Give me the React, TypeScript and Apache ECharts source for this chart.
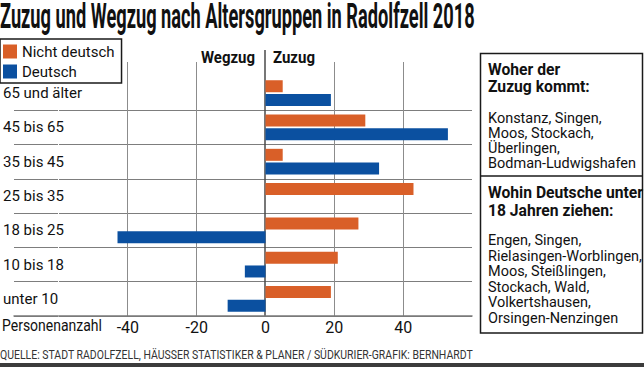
import React, { useEffect, useRef } from "react";
import * as echarts from "echarts";

// ---------- data ----------
const categories = ["65 und älter", "45 bis 65", "35 bis 45", "25 bis 35", "18 bis 25", "10 bis 18", "unter 10"];
const nichtDeutsch = [5, 29, 5, 43, 27, 21, 19];
const deutsch = [19, 53, 33, 0, -43, -6, -11];
const seriesNames = ["Nicht deutsch", "Deutsch"];
const xMin = -60;
const xMax = 60;
const xStep = 20;

const titleText = "Zuzug und Wegzug nach Altersgruppen in Radolfzell 2018";
const footerText = "QUELLE: STADT RADOLFZELL, HÄUSSER STATISTIKER & PLANER / SÜDKURIER-GRAFIK: BERNHARDT";
const box1Head = ["Woher der", "Zuzug kommt:"];
const box1Body = ["Konstanz, Singen,", "Moos, Stockach,", "Überlingen,", "Bodman-Ludwigshafen"];
const box2Head = ["Wohin Deutsche unter", "18 Jahren ziehen:"];
const box2Body = ["Engen, Singen,", "Rielasingen-Worblingen,", "Moos, Steißlingen,", "Stockach, Wald,", "Volkertshausen,", "Orsingen-Nenzingen"];

const FONT = 'Roboto, "Noto Sans", sans-serif';
const ORANGE = "#d95f28";
const BLUE = "#0b50a0";

function measure(text: string, font: string): number {
  const c = document.createElement("canvas");
  const ctx = c.getContext("2d");
  if (!ctx) return text.length * 8;
  ctx.font = font;
  return ctx.measureText(text).width;
}

export default function App() {
  const ref = useRef<HTMLDivElement>(null);

  useEffect(() => {
    if (!ref.current) return;
    const chart = echarts.init(ref.current, null, { renderer: "svg" });

    const fit = (text: string, font: string, w: number) => w / measure(text, font);
    const titleScale = fit(titleText, `bold 35px Roboto`, 475);
    const footerScale = fit(footerText, `13px Roboto`, 473);
    const headScale = Math.min(1, fit(box2Head[0], `bold 16px Roboto`, 155));
    const bodyScale = Math.min(1, fit(box2Body[1], `15px Roboto`, 154));
    const wegScale = fit("Wegzug", `bold 17px Roboto`, 54);
    const zuScale = fit("Zuzug", `bold 17px Roboto`, 42);
    const persScale = fit("Personenanzahl", `16px Roboto`, 100);

    const nTicks = Math.round((xMax - xMin) / xStep) + 1;
    const tickVals = Array.from({ length: nTicks }, (_, i) => xMin + i * xStep);
    const gridColors = tickVals.map((v) => (v === xMin || v === xMax || v === 0 ? "transparent" : "#8c8c8c"));
    const zeroColors = tickVals.map((v) => (v === 0 ? "#4a4a4a" : "transparent"));
    const sepColors = ["transparent", ...categories.map(() => "#7d7d7d")];

    const textEl = (text: string, x: number, y: number, opts: any = {}) => ({
      type: "text",
      x,
      y,
      scaleX: opts.scaleX ?? 1,
      z: 10,
      style: {
        text,
        fill: opts.fill ?? "#111",
        font: `${opts.bold ? "bold " : ""}${opts.size ?? 15}px ${FONT}`,
        textAlign: opts.align ?? "left",
        textVerticalAlign: "middle",
      },
    });

    const graphic: any[] = [
      textEl(titleText, 0, 16, { bold: true, size: 35, scaleX: titleScale }),
      textEl("Wegzug", 255, 57, { bold: true, size: 17, align: "right", scaleX: wegScale }),
      textEl("Zuzug", 273, 57, { bold: true, size: 17, scaleX: zuScale }),
      textEl("Personenanzahl", 2, 326, { size: 16, scaleX: persScale }),
      textEl(footerText, 0, 355, { size: 13, fill: "#333", scaleX: footerScale }),
      { type: "rect", shape: { x: 0, y: 363, width: 644, height: 4 }, style: { fill: "#3c3c3c" } },
      {
        type: "rect",
        shape: { x: 480.5, y: 53.5, width: 162, height: 279.5 },
        style: { fill: "none", stroke: "#1a1a1a", lineWidth: 1.5 },
      },
      { type: "line", shape: { x1: 480, y1: 176, x2: 643, y2: 176 }, style: { stroke: "#1a1a1a", lineWidth: 1.5 } },
    ];
    box1Head.forEach((t, i) => graphic.push(textEl(t, 488, 69 + i * 17, { bold: true, size: 16, scaleX: headScale })));
    box1Body.forEach((t, i) => graphic.push(textEl(t, 488, 118 + i * 15, { size: 15, scaleX: bodyScale })));
    box2Head.forEach((t, i) => graphic.push(textEl(t, 488, 192 + i * 18, { bold: true, size: 16, scaleX: headScale })));
    box2Body.forEach((t, i) => graphic.push(textEl(t, 488, 240 + i * 15.6, { size: 15, scaleX: bodyScale })));

    const hidden = { show: false, onZero: false };

    const option: any = {
      animation: false,
      textStyle: { fontFamily: FONT },
      legend: {
        data: seriesNames,
        orient: "vertical",
        left: 0,
        top: 39,
        icon: "rect",
        itemWidth: 14,
        itemHeight: 14,
        itemGap: 5,
        padding: [5, 7, 4, 3],
        borderColor: "#1a1a1a",
        borderWidth: 1.5,
        textStyle: { fontSize: 15, color: "#111", fontFamily: FONT },
      },
      grid: [
        { left: 58, right: 172, top: 76, bottom: 51 },
        { left: 14, width: 44, top: 76, bottom: 51 },
        { left: 58, right: 172, top: 62, bottom: 51 },
        { left: 58, right: 172, top: 50, bottom: 51 },
      ],
      xAxis: [
        {
          gridIndex: 0,
          type: "value",
          min: xMin,
          max: xMax,
          interval: xStep,
          axisLine: { show: true, onZero: false, lineStyle: { color: "#7a7a7a", width: 1.5 } },
          axisTick: { show: false },
          splitLine: { show: false },
          axisLabel: {
            fontSize: 16,
            color: "#111",
            margin: 3,
            fontFamily: FONT,
            formatter: (v: number) => (v === xMin || v === xMax ? "" : String(v)),
          },
        },
        {
          gridIndex: 1,
          type: "value",
          min: 0,
          max: 1,
          axisLine: { show: true, onZero: false, lineStyle: { color: "#7a7a7a", width: 1.5 } },
          axisTick: { show: false },
          splitLine: { show: false },
          axisLabel: { show: false },
        },
        {
          gridIndex: 2,
          type: "value",
          min: xMin,
          max: xMax,
          interval: xStep,
          axisLine: hidden,
          axisTick: { show: false },
          axisLabel: { show: false },
          splitLine: { show: true, lineStyle: { color: gridColors, width: 1 } },
        },
        {
          gridIndex: 3,
          type: "value",
          min: xMin,
          max: xMax,
          interval: xStep,
          axisLine: hidden,
          axisTick: { show: false },
          axisLabel: { show: false },
          splitLine: { show: true, lineStyle: { color: zeroColors, width: 1.5 } },
        },
      ],
      yAxis: [
        {
          gridIndex: 0,
          type: "category",
          data: categories,
          inverse: true,
          axisLine: hidden,
          axisTick: { show: false },
          axisLabel: {
            align: "left",
            margin: 56,
            fontSize: 15,
            color: "#111",
            fontFamily: FONT,
            padding: [6, 0, 0, 0],
          },
          splitLine: { show: true, lineStyle: { color: sepColors, width: 1 } },
        },
        {
          gridIndex: 1,
          type: "category",
          data: categories,
          inverse: true,
          axisLine: hidden,
          axisTick: { show: false },
          axisLabel: { show: false },
          splitLine: { show: true, lineStyle: { color: sepColors, width: 1 } },
        },
        { gridIndex: 2, type: "value", show: false },
        { gridIndex: 3, type: "value", show: false },
      ],
      series: [
        {
          name: seriesNames[0],
          type: "bar",
          xAxisIndex: 0,
          yAxisIndex: 0,
          data: nichtDeutsch,
          barWidth: 12,
          barGap: "15%",
          itemStyle: { color: ORANGE },
        },
        {
          name: seriesNames[1],
          type: "bar",
          xAxisIndex: 0,
          yAxisIndex: 0,
          data: deutsch,
          barWidth: 12,
          barGap: "15%",
          itemStyle: { color: BLUE },
        },
      ],
      graphic,
    };

    chart.setOption(option);
    return () => chart.dispose();
  }, []);

  return (
    <div
      ref={ref}
      style={{ position: "fixed", left: 0, top: 0, width: 644, height: 367, background: "#fff" }}
    />
  );
}
